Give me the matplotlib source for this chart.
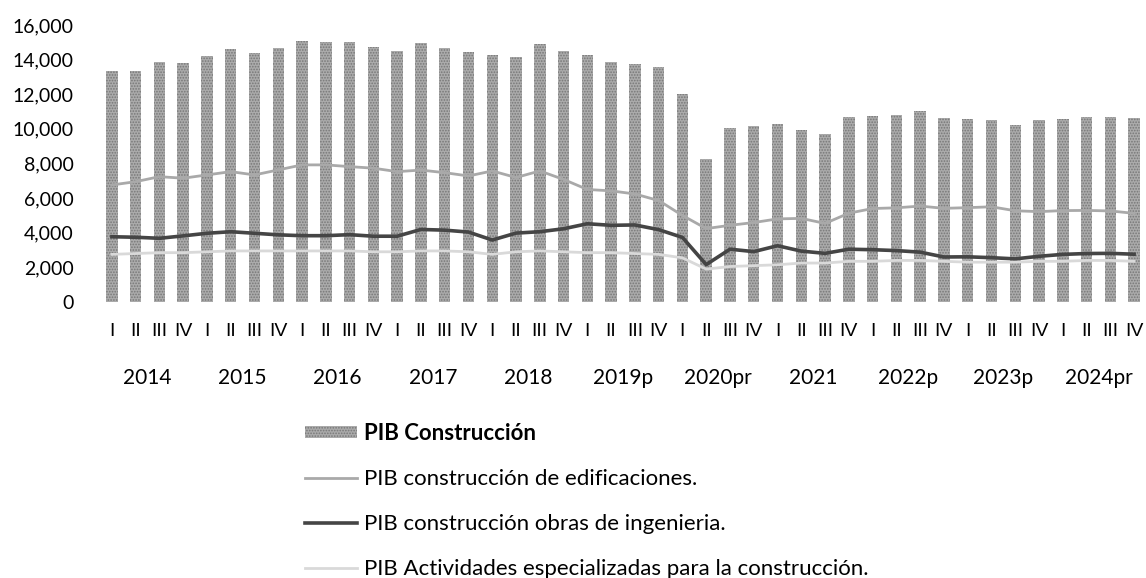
import matplotlib
matplotlib.use("Agg")
import matplotlib.pyplot as plt
import numpy as np
from matplotlib.patches import Patch
from matplotlib.lines import Line2D

# Data (millones, trimestral 2014 - 2024)
years = ["2014", "2015", "2016", "2017", "2018", "2019p", "2020pr",
         "2021", "2022p", "2023p", "2024pr"]
quarters = ["I", "II", "III", "IV"]

pib_construccion = [13350, 13350, 13850, 13800, 14200, 14600, 14400, 14650,
                    15050, 15000, 15000, 14750, 14500, 14950, 14650, 14450,
                    14250, 14150, 14900, 14500, 14250, 13850, 13750, 13600,
                    12000, 8250, 10050, 10150, 10300, 9950, 9700, 10700,
                    10750, 10800, 11050, 10600, 10550, 10500, 10250, 10500,
                    10550, 10700, 10700, 10600]

pib_edificaciones = [6760, 6950, 7240, 7150, 7340, 7530, 7340, 7630,
                     7920, 7920, 7820, 7730, 7530, 7620, 7470, 7280,
                     7570, 7190, 7570, 7080, 6500, 6420, 6240, 5860,
                     5000, 4240, 4430, 4590, 4800, 4830, 4540, 5130,
                     5400, 5440, 5540, 5410, 5450, 5500, 5270, 5220,
                     5280, 5290, 5260, 5120]

pib_ingenieria = [3770, 3740, 3680, 3820, 3970, 4060, 3970, 3880,
                  3830, 3830, 3890, 3800, 3800, 4190, 4150, 4040,
                  3580, 3980, 4060, 4230, 4520, 4430, 4450, 4180,
                  3730, 2160, 3050, 2910, 3250, 2940, 2810, 3050,
                  3020, 2970, 2880, 2600, 2610, 2560, 2490, 2640,
                  2750, 2800, 2810, 2760]

pib_especializadas = [2750, 2800, 2850, 2850, 2900, 2950, 2950, 2950,
                      2950, 2950, 2950, 2900, 2900, 2950, 2950, 2900,
                      2750, 2900, 2950, 2900, 2850, 2850, 2800, 2750,
                      2550, 1900, 2050, 2100, 2150, 2250, 2250, 2350,
                      2350, 2400, 2400, 2350, 2300, 2300, 2300, 2350,
                      2350, 2400, 2400, 2350]

plt.rcParams['font.family'] = ['Lato', 'DejaVu Sans']
plt.rcParams['hatch.linewidth'] = 0.8

bar_face = '#ababab'
bar_hatch = '#777777'
c_edif = '#a9a9a9'
c_ing = '#454545'
c_esp = '#d9d9d9'

fig = plt.figure(figsize=(11.46, 5.78), dpi=100)
ax = fig.add_axes([100 / 1146, (578 - 302) / 578, 1046 / 1146, 277 / 578])

x = np.arange(len(pib_construccion))

# Bars with a speckled grey look
ax.bar(x, pib_construccion, width=0.48, color=bar_face, hatch='......',
       edgecolor=bar_hatch, linewidth=0)

# Lines
ax.plot(x, pib_edificaciones, color=c_edif, lw=2)
ax.plot(x, pib_ingenieria, color=c_ing, lw=2.6)
ax.plot(x, pib_especializadas, color=c_esp, lw=2)

ax.set_ylim(0, 16000)
ax.set_xlim(-0.5, len(x) - 0.5)
ax.set_yticks(np.arange(0, 16001, 2000))
ax.set_yticklabels([f"{v:,}" for v in range(0, 16001, 2000)], fontsize=14)

# Quarter labels under each bar
ax.set_xticks(x)
ax.set_xticklabels(quarters * len(years), fontsize=14, family=['Liberation Sans'])
ax.tick_params(axis='both', length=0)
ax.tick_params(axis='x', pad=15)
ax.tick_params(axis='y', pad=19)

# Year labels centered under each group of four
for i, yr in enumerate(years):
    ax.text(i * 4 + 1.5, -0.275, yr, transform=ax.get_xaxis_transform(),
            ha='center', va='center', fontsize=15)

for side in ['top', 'right', 'left', 'bottom']:
    ax.spines[side].set_visible(False)

# Legend below the chart
handles = [
    Patch(facecolor=bar_face, hatch='......', edgecolor=bar_hatch, linewidth=0),
    Line2D([0], [0], color=c_edif, lw=2),
    Line2D([0], [0], color=c_ing, lw=2.6),
    Line2D([0], [0], color=c_esp, lw=2),
]
labels = ["PIB Construcción",
          "PIB construcción de edificaciones.",
          "PIB construcción obras de ingenieria.",
          "PIB Actividades especializadas para la construcción."]
leg = fig.legend(handles, labels, loc='upper left',
                 bbox_to_anchor=(305 / 1146, (578 - 423) / 578),
                 frameon=False, fontsize=16, borderaxespad=0, borderpad=0,
                 handlelength=2.35, handleheight=0.45, handletextpad=0.3,
                 labelspacing=1.12)
leg.get_texts()[0].set_fontweight('bold')

fig.savefig("out.png", dpi=100)
